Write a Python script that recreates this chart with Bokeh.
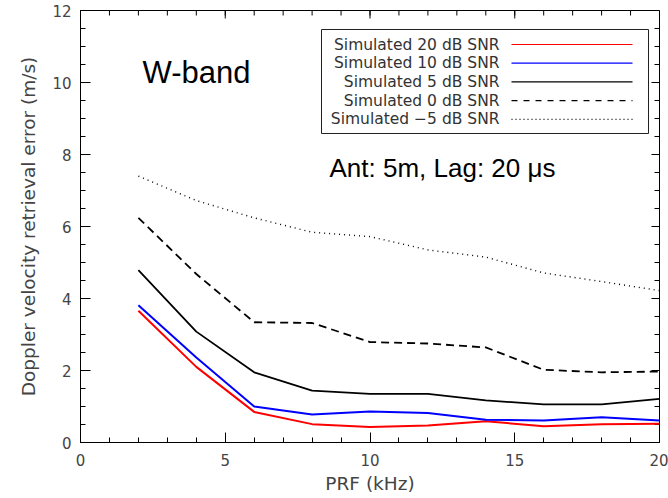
from bokeh.plotting import figure
from bokeh.models import FixedTicker, Range1d, Label, BoxAnnotation
from bokeh.embed import file_html
from bokeh.resources import INLINE

# ---- data ----
prf = [2, 4, 6, 8, 10, 12, 14, 16, 18, 20]
snr_20 = [3.66, 2.10, 0.85, 0.51, 0.43, 0.47, 0.59, 0.45, 0.51, 0.52]
snr_10 = [3.81, 2.36, 1.00, 0.78, 0.86, 0.82, 0.63, 0.61, 0.70, 0.61]
snr_5 = [4.79, 3.08, 1.95, 1.44, 1.35, 1.35, 1.17, 1.06, 1.06, 1.21]
snr_0 = [6.24, 4.68, 3.34, 3.32, 2.79, 2.75, 2.64, 2.02, 1.95, 1.97]
snr_m5 = [7.40, 6.72, 6.24, 5.84, 5.72, 5.35, 5.15, 4.71, 4.47, 4.22]

legend_labels = ["Simulated 20 dB SNR", "Simulated 10 dB SNR", "Simulated 5 dB SNR",
                 "Simulated 0 dB SNR", "Simulated \u22125 dB SNR"]
x_major = [0, 5, 10, 15, 20]
x_minor = list(range(0, 21))
y_major = [0, 2, 4, 6, 8, 10, 12]
y_minor = [i * 0.5 for i in range(0, 25)]

# ---- layout (pixels) ----
W, H = 668, 498
L, R, T, B = 80, 659, 10, 442
XMIN, XMAX, YMIN, YMAX = 0, 20, 0, 12
XPX = (R - L) / (XMAX - XMIN)
YPX = (B - T) / (YMAX - YMIN)


def dx(px):
    return XMIN + (px - L) / XPX


def dy(py):
    return YMIN + (B - py) / YPX


p = figure(width=W, height=H, output_backend="svg", toolbar_location=None,
           x_range=Range1d(XMIN, XMAX), y_range=Range1d(YMIN, YMAX),
           min_border_left=L, min_border_right=W - R, min_border_top=T,
           min_border_bottom=H - B, x_axis_label="PRF (kHz)",
           y_axis_label="Doppler velocity retrieval error (m/s)")
p.grid.visible = False
p.outline_line_color = "black"
p.outline_line_width = 1
p.background_fill_color = "white"
p.border_fill_color = "white"

label_font = "DejaVu Sans"
for ax in (p.xaxis[0], p.yaxis[0]):
    ax.axis_line_color = "black"
    ax.major_tick_line_color = "black"
    ax.minor_tick_line_color = "black"
    ax.major_tick_in = 10
    ax.major_tick_out = 0
    ax.minor_tick_in = 5
    ax.minor_tick_out = 0
    ax.major_label_text_font = label_font
    ax.major_label_text_font_size = "15px"
    ax.major_label_text_color = "#444444"
    ax.axis_label_text_font = label_font
    ax.axis_label_text_font_size = "18.5px"
    ax.axis_label_text_font_style = "normal"
    ax.axis_label_text_color = "#444444"

p.xaxis[0].ticker = FixedTicker(ticks=x_major, minor_ticks=x_minor)
p.yaxis[0].ticker = FixedTicker(ticks=y_major, minor_ticks=y_minor)
p.xaxis[0].major_label_standoff = 11
p.xaxis[0].axis_label_standoff = 4
p.yaxis[0].major_label_standoff = 9
p.yaxis[0].axis_label_standoff = 10

# mirror ticks on the top and right edges of the box
def ticks_top(vals, length_px):
    p.segment(x0=vals, y0=[YMAX] * len(vals), x1=vals,
              y1=[YMAX - length_px / YPX] * len(vals), line_color="black", line_width=1)


def ticks_right(vals, length_px):
    p.segment(x0=[XMAX] * len(vals), y0=vals, x1=[XMAX - length_px / XPX] * len(vals),
              y1=vals, line_color="black", line_width=1)


ticks_top(x_minor, 5)
ticks_top(x_major, 8)
ticks_right(y_minor, 5)
ticks_right(y_major, 8)

# ---- curves ----
series = [
    (snr_20, "#ff0000", 2.0, "solid"),
    (snr_10, "#0000ff", 2.0, "solid"),
    (snr_5, "#000000", 1.8, "solid"),
    (snr_0, "#000000", 1.8, "8 5"),
    (snr_m5, "#000000", 1.4, "1 4"),
]
for vals, col, lw, dash in series:
    p.line(prf, vals, line_color=col, line_width=lw, line_dash=dash)

# ---- hand-made legend (text left, sample line right) ----
box = BoxAnnotation(left=dx(321), right=dx(648), top=dy(29), bottom=dy(133),
                    fill_alpha=0, line_color="#222222", line_width=1, line_alpha=1)
p.add_layout(box)
row_y = [44, 62.7, 81.4, 100.1, 118.8]
leg_styles = [("#ff0000", "solid"), ("#0000ff", "solid"), ("#000000", "solid"),
              ("#000000", "6 6"), ("#000000", "1 3")]
for lab, yy, (col, dash) in zip(legend_labels, row_y, leg_styles):
    p.add_layout(Label(x=dx(499), y=dy(yy), text=lab, text_align="right",
                       text_baseline="middle", text_font=label_font,
                       text_font_size="15.5px", text_color="#333333"))
    p.line([dx(511), dx(632)], [dy(yy), dy(yy)], line_color=col, line_width=1.2,
           line_dash=dash)

# ---- annotations ----
p.add_layout(Label(x=dx(142), y=dy(72), text="W-band", text_align="left",
                   text_baseline="alphabetic", text_font="Liberation Sans",
                   text_font_size="31px", text_color="black"))
p.add_layout(Label(x=dx(329), y=dy(167), text="Ant: 5m, Lag: 20 \u03bcs", text_align="left",
                   text_baseline="alphabetic", text_font="Liberation Sans",
                   text_font_size="26px", text_color="black"))

open("out.html", "w").write(file_html(p, INLINE))
